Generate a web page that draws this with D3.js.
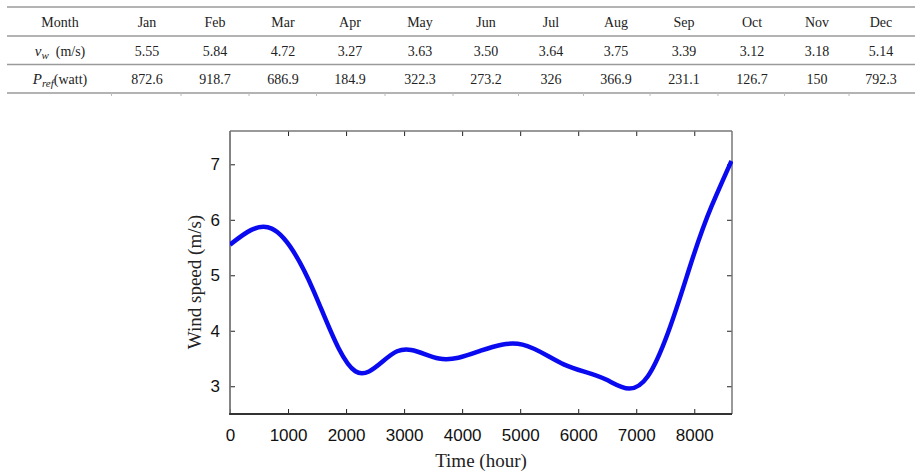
<!DOCTYPE html>
<html>
<head>
<meta charset="utf-8">
<script src="https://cdn.jsdelivr.net/npm/d3@7/dist/d3.min.js"></script>
<style>
  html, body { margin: 0; padding: 0; background: #fff; }
  svg { display: block; }
</style>
</head>
<body>
<svg id="chart" width="923" height="476"></svg>
<script>
// ---- Table data ----
const months = ["Jan","Feb","Mar","Apr","May","Jun","Jul","Aug","Sep","Oct","Nov","Dec"];
const windSpeedRow = ["5.55","5.84","4.72","3.27","3.63","3.50","3.64","3.75","3.39","3.12","3.18","5.14"];
const powerRow = ["872.6","918.7","686.9","184.9","322.3","273.2","326","366.9","231.1","126.7","150","792.3"];

// ---- Curve knots (hour, wind speed m/s): monthly speeds every 720 h, plus end values ----
const hours = [0, 720, 1440, 2160, 2880, 3600, 4320, 5040, 5760, 6480, 7200, 7920, 8300, 8640];
const speeds = [5.55, 5.84, 4.72, 3.27, 3.63, 3.50, 3.64, 3.75, 3.39, 3.12, 3.18, 5.14, 6.25, 7.06];

const xTicks = [0, 1000, 2000, 3000, 4000, 5000, 6000, 7000, 8000];
const yTicks = [3, 4, 5, 6, 7];

const svg = d3.select("#chart");
const serif = "'Liberation Serif', 'Times New Roman', serif";
const sans = "'Liberation Sans', Arial, sans-serif";

// ---- Table ----
const colPos = {Month: 60, Jan: 147, Feb: 215, Mar: 283, Apr: 350, May: 420, Jun: 486, Jul: 551, Aug: 616, Sep: 684, Oct: 752, Nov: 817, Dec: 881};
const table = svg.append("g");
const lineYs = [7, 36, 64.5, 93];
table.selectAll("line.h").data(lineYs).join("line")
  .attr("x1", 7).attr("x2", 915).attr("y1", d => d).attr("y2", d => d)
  .attr("stroke", "#9a9a9a").attr("stroke-width", 1.5);
const cols = ["Month"].concat(months);
const bounds = [];
for (let i = 0; i < cols.length - 1; i++) bounds.push((colPos[cols[i]] + colPos[cols[i+1]]) / 2 + (i === 0 ? 8 : 0));
table.selectAll("line.b").data(bounds).join("line")
  .attr("x1", d => d).attr("x2", d => d).attr("y1", 93).attr("y2", 96)
  .attr("stroke", "#bbb").attr("stroke-width", 1);

const rowY = [26.5, 55.5, 84];
function rowText(vals, y) {
  table.selectAll(null).data(vals).join("text")
    .attr("x", (d, i) => colPos[months[i]]).attr("y", y)
    .attr("text-anchor", "middle")
    .attr("font-family", serif).attr("font-size", 14).attr("fill", "#222")
    .text(d => d);
}
table.append("text").attr("x", colPos.Month).attr("y", rowY[0]).attr("text-anchor", "middle")
  .attr("font-family", serif).attr("font-size", 14).attr("fill", "#222").text("Month");
rowText(months, rowY[0]);
rowText(windSpeedRow, rowY[1]);
rowText(powerRow, rowY[2]);

const l1 = table.append("text").attr("x", colPos.Month).attr("y", rowY[1]).attr("text-anchor", "middle")
  .attr("font-family", serif).attr("font-size", 14).attr("fill", "#222");
l1.append("tspan").attr("font-style", "italic").attr("font-size", 15).text("v");
l1.append("tspan").attr("font-style", "italic").attr("font-size", 11).attr("dy", 3).text("w");
l1.append("tspan").attr("dy", -3).text("\u2002(m/s)");
const l2 = table.append("text").attr("x", colPos.Month).attr("y", rowY[2]).attr("text-anchor", "middle")
  .attr("font-family", serif).attr("font-size", 14).attr("fill", "#222");
l2.append("tspan").attr("font-style", "italic").attr("font-size", 15).text("P");
l2.append("tspan").attr("font-style", "italic").attr("font-size", 11).attr("dy", 3).text("ref");
l2.append("tspan").attr("dy", -3).text("(watt)");

// ---- Plot ----
const L = 230, R = 732, T = 131, B = 414;
const x = d3.scaleLinear().domain([0, 8650]).range([L, R]);
const y = d3.scaleLinear().domain([2.5, 7.6]).range([B, T]);
const fmt = d3.format("d");

const plot = svg.append("g");
const tickLen = 5;

plot.append("g").attr("transform", `translate(0,${B})`)
  .call(d3.axisBottom(x).tickValues(xTicks).tickSize(-tickLen).tickSizeOuter(0).tickPadding(15).tickFormat(fmt))
  .call(g => g.select(".domain").remove())
  .call(g => g.selectAll("line").attr("stroke", "#222"))
  .call(g => g.selectAll("text").attr("font-family", sans).attr("font-size", 17).attr("fill", "#111"));
plot.append("g").attr("transform", `translate(0,${T})`)
  .call(d3.axisTop(x).tickValues(xTicks.filter(d => d > 0)).tickSize(-tickLen).tickSizeOuter(0).tickFormat(""))
  .call(g => g.select(".domain").remove())
  .call(g => g.selectAll("line").attr("stroke", "#222"));
plot.append("g").attr("transform", `translate(${L},0)`)
  .call(d3.axisLeft(y).tickValues(yTicks).tickSize(-tickLen).tickSizeOuter(0).tickPadding(10).tickFormat(fmt))
  .call(g => g.select(".domain").remove())
  .call(g => g.selectAll("line").attr("stroke", "#222"))
  .call(g => g.selectAll("text").attr("font-family", sans).attr("font-size", 17).attr("fill", "#111"));
plot.append("g").attr("transform", `translate(${R},0)`)
  .call(d3.axisRight(y).tickValues(yTicks).tickSize(-tickLen).tickSizeOuter(0).tickFormat(""))
  .call(g => g.select(".domain").remove())
  .call(g => g.selectAll("line").attr("stroke", "#222"));

plot.append("line").attr("x1", L).attr("x2", R).attr("y1", T).attr("y2", T).attr("stroke", "#777").attr("stroke-width", 1.5);
plot.append("line").attr("x1", R).attr("x2", R).attr("y1", T).attr("y2", B).attr("stroke", "#777").attr("stroke-width", 1.5);
plot.append("line").attr("x1", L).attr("x2", L).attr("y1", T).attr("y2", B).attr("stroke", "#777").attr("stroke-width", 1.8);
plot.append("line").attr("x1", L - 0.9).attr("x2", R).attr("y1", B).attr("y2", B).attr("stroke", "#333").attr("stroke-width", 1.8);

const pts = hours.map((h, i) => [h, speeds[i]]);
const line = d3.line().x(d => x(d[0])).y(d => y(d[1])).curve(d3.curveNatural);
svg.append("defs").append("clipPath").attr("id", "clip")
  .append("rect").attr("x", L).attr("y", T - 10).attr("width", R - L + 1).attr("height", B - T + 10);
plot.append("path").datum(pts).attr("d", line)
  .attr("fill", "none").attr("stroke", "#0a0af0").attr("stroke-width", 4.5)
  .attr("stroke-linejoin", "round").attr("clip-path", "url(#clip)");

plot.append("text").attr("x", (L + R) / 2).attr("y", 467).attr("text-anchor", "middle")
  .attr("font-family", serif).attr("font-size", 19).attr("fill", "#222").text("Time (hour)");
plot.append("text").attr("transform", `translate(201,${282}) rotate(-90)`).attr("text-anchor", "middle")
  .attr("font-family", serif).attr("font-size", 19).attr("fill", "#222").text("Wind speed (m/s)");
</script>
</body>
</html>
